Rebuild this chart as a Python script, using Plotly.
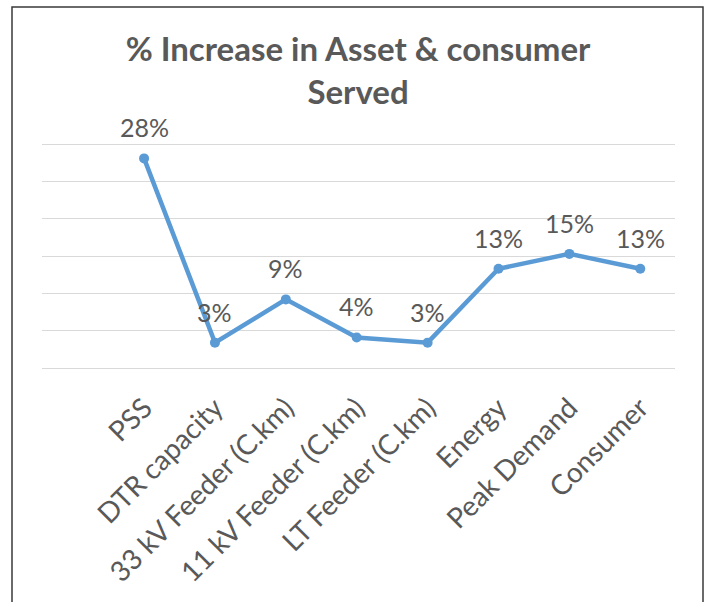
import plotly.graph_objects as go

categories = ["PSS", "DTR capacity", "33 kV Feeder (C.km)", "11 kV Feeder (C.km)",
              "LT Feeder (C.km)", "Energy", "Peak Demand", "Consumer"]
values = [28.1, 3.4, 9.2, 4.1, 3.4, 13.3, 15.3, 13.3]
labels = ["28%", "3%", "9%", "4%", "3%", "13%", "15%", "13%"]
title_text = "<b>% Increase in Asset & consumer<br>Served</b>"

FONT = "Lato"
GRAY = "#595959"

fig = go.Figure()
fig.add_trace(go.Scatter(
    x=categories, y=values, mode="lines+markers",
    line=dict(color="#5B9BD5", width=4.5),
    marker=dict(color="#5B9BD5", size=10),
    hoverinfo="skip", showlegend=False,
))

for c, v, t in zip(categories, values, labels):
    fig.add_annotation(x=c, y=v, text=t, showarrow=False, yshift=31,
                       font=dict(family=FONT, size=25, color=GRAY))

W, H = 709, 602
L, R, T, B = 42, 34, 142, 234
pw, ph = W - L - R, H - T - B
fx0 = (12 - L) / pw
fx1 = (703 - L) / pw
fy1 = (H - B - 7) / ph
fy0 = (H - B - 610) / ph
fig.add_shape(type="rect", xref="paper", yref="paper", x0=fx0, x1=fx1, y0=fy0, y1=fy1,
              line=dict(color="#3a3a3a", width=1.5), layer="below")

fig.update_layout(
    width=W, height=H,
    margin=dict(l=L, r=R, t=T, b=B),
    paper_bgcolor="white", plot_bgcolor="white",
    title=dict(text=title_text, x=0.505, xanchor="center", y=1 - 61 / H, yanchor="middle",
               font=dict(family=FONT, size=33, color=GRAY)),
    xaxis=dict(type="category", range=[-1.44, 7.49], showgrid=False, showline=False,
               ticks="", tickangle=-45, ticklabelstandoff=17,
               tickfont=dict(family=FONT, size=28, color=GRAY)),
    yaxis=dict(range=[0, 30.3], tickvals=[0, 5, 10, 15, 20, 25, 30], showgrid=True,
               gridcolor="#d9d9d9", gridwidth=1,
               showticklabels=False, zeroline=True, zerolinecolor="#d9d9d9", zerolinewidth=1,
               showline=False, ticks=""),
)

fig.write_html("out.html")
